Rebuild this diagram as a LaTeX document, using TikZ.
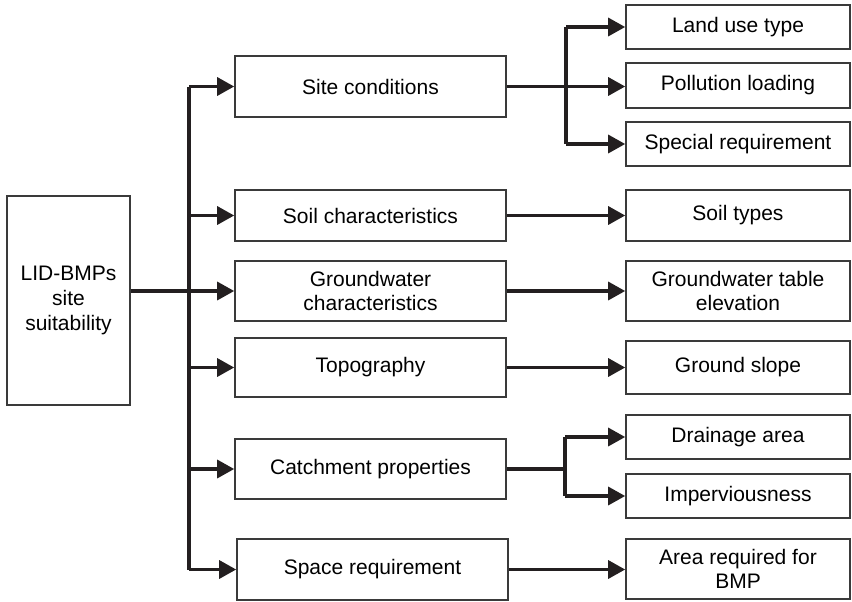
\documentclass[tikz,border=0pt]{standalone}
\usepackage{xcolor}
\usepackage{fontspec}
\setmainfont{Liberation Sans}
\usepackage{tikz}
\usetikzlibrary{arrows.meta,positioning,calc}
\definecolor{ink}{HTML}{231F20}
\definecolor{edge}{HTML}{3A3A3A}
\tikzset{
  % Boxes
  goal/.style={draw=edge,line width=0.8pt,fill=white,minimum width=61.5pt,
               minimum height=104.5pt,align=center,inner sep=2pt,
               font=\fontsize{10.5}{12.5}\selectfont},
  crit/.style={draw=edge,line width=0.8pt,fill=white,minimum width=135.5pt,
               align=center,inner sep=2pt,font=\fontsize{10.5}{12}\selectfont},
  fact/.style={draw=edge,line width=0.8pt,fill=white,minimum width=112pt,
               align=center,inner sep=2pt,font=\fontsize{10.5}{12}\selectfont},
  % Connectors
  ln/.style={ink,line width=1.6pt,line join=miter},
  fl/.style={-{Triangle[length=8.5pt,width=9pt]},ink,line width=1.6pt,line join=miter}
}

\begin{document}
\begin{tikzpicture}[x=0.5pt,y=-0.5pt]
  \useasboundingbox (0,0) rectangle (852,601);

  \node[goal] (root) at (68.5,300.5) {LID-BMPs\\site\\suitability};

  % Criteria
  \node[crit,minimum height=30.5pt] (site)  at (370.5,86.5)  {Site conditions};
  \node[crit,minimum height=25.5pt] (soil)  at (370.5,215.5) {Soil characteristics};
  \node[crit,minimum height=30pt]   (gw)    at (370.5,291)   {Groundwater\\characteristics};
  \node[crit,minimum height=29.5pt] (topo)  at (370.5,367.5) {Topography};
  \node[crit,minimum height=30pt]   (catch) at (370.5,469)   {Catchment properties};
  \node[crit,minimum height=30.5pt] (space) at (372.5,569.5) {Space requirement};

  % Factors
  \node[fact,minimum height=22pt]   (land)   at (738,27)    {Land use type};
  \node[fact,minimum height=22.5pt] (poll)   at (738,85.5)  {Pollution loading};
  \node[fact,minimum height=22pt]   (spec)   at (738,144)   {Special requirement};
  \node[fact,minimum height=25.5pt] (stype)  at (738,215.5) {Soil types};
  \node[fact,minimum height=30pt]   (gwt)    at (738,291)   {Groundwater table\\elevation};
  \node[fact,minimum height=26.5pt] (slope)  at (738,367.5) {Ground slope};
  \node[fact,minimum height=22pt]   (drain)  at (738,437)   {Drainage area};
  \node[fact,minimum height=22pt]   (imperv) at (738,496)   {Imperviousness};
  \node[fact,minimum height=30pt]   (area)   at (738,569)   {Area required for\\BMP};

  % Trunk
  \coordinate (tr) at (189,0);
  \draw[ln] (tr |- site.west) -- (tr |- space.west);
  \draw[fl] (root.east |- gw.west) -- (gw.west);
  \foreach \c in {site,soil,topo,catch,space}
    \draw[fl] (tr |- \c.west) -- (\c.west);

  % Site conditions -> factors
  \coordinate (b1) at (566,0);
  \draw[ln] (b1 |- land.west) -- (b1 |- spec.west);
  \draw[fl] (site.east) -- (poll.west |- site.east);
  \draw[fl] (b1 |- land.west) -- (land.west);
  \draw[fl] (b1 |- spec.west) -- (spec.west);

  % One to one
  \draw[fl] (soil.east) -- (stype.west);
  \draw[fl] (gw.east) -- (gwt.west);
  \draw[fl] (topo.east) -- (slope.west);
  \draw[fl] (space.east) -- (area.west |- space.east);

  % Catchment properties -> factors
  \coordinate (b2) at (565,0);
  \draw[ln] (catch.east) -- (b2 |- catch.east);
  \draw[ln] (b2 |- drain.west) -- (b2 |- imperv.west);
  \draw[fl] (b2 |- drain.west) -- (drain.west);
  \draw[fl] (b2 |- imperv.west) -- (imperv.west);
\end{tikzpicture}
\end{document}
